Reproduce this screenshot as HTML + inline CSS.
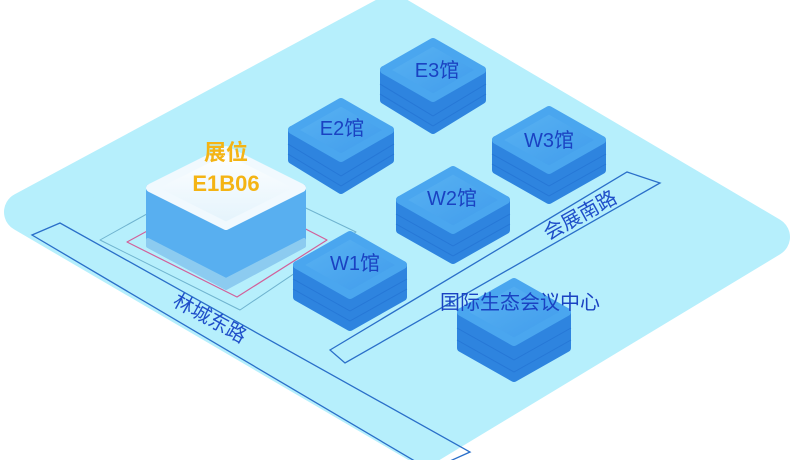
<!DOCTYPE html>
<html><head><meta charset="utf-8"><style>
html,body{margin:0;padding:0;background:#fff;width:800px;height:460px;overflow:hidden}
svg{display:block}
text{font-family:"Liberation Sans","Noto Sans CJK SC",sans-serif}
</style></head><body>
<svg width="800" height="460" viewBox="0 0 800 460" xmlns="http://www.w3.org/2000/svg">
<defs>
<linearGradient id="top" x1="0" y1="0" x2="1" y2="1"><stop offset="0" stop-color="#5ab4f3"/><stop offset="1" stop-color="#3f9aeb"/></linearGradient>
<linearGradient id="wtop" x1="0" y1="0" x2="0" y2="1"><stop offset="0" stop-color="#ffffff"/><stop offset="1" stop-color="#e3f3fc"/></linearGradient>
</defs>
<!-- platform -->
<polygon points="392,14 770,237 424,446 24,212" fill="#b6effc" stroke="#b6effc" stroke-width="40" stroke-linejoin="round"/>
<!-- roads -->
<polygon points="32,235 60,223 470,452 430,470" fill="none" stroke="#2a6fc9" stroke-width="1.3"/>
<polygon points="330,350 627,172 660,183 345,363" fill="none" stroke="#2a6fc9" stroke-width="1.3"/>
<text x="210" y="325" font-size="20" fill="#1f4fc9" text-anchor="middle" transform="rotate(29 210 318)">林城东路</text>
<text x="580" y="222" font-size="20" fill="#1f4fc9" text-anchor="middle" transform="rotate(-29 580 215)">会展南路</text>
<!-- selection outlines -->
<polygon points="100,240 226,170 356,232 240,310" fill="none" stroke="#6fb3cf" stroke-width="1" stroke-linejoin="round"/>
<polygon points="127,242 226,188 327,240 237,297" fill="none" stroke="#d2609a" stroke-width="1.2" stroke-linejoin="round"/>
<!-- E1B06 block -->
<g stroke-linejoin="round">
<polygon points="150,188 226,228 302,188 302,244 226,284 150,244" fill="#58aff0" stroke="#58aff0" stroke-width="8"/>
<polygon points="148,240 226,280 304,240 304,246 226,288 148,246" fill="#8ccbf0" stroke="#8ccbf0" stroke-width="4"/>
<polygon points="150,188 226,150 302,188 226,226" fill="url(#wtop)" stroke="#f1f9fe" stroke-width="8"/>
</g>
<text x="226" y="160" font-size="22" font-weight="bold" fill="#f4b414" text-anchor="middle">展位</text>
<text x="226" y="191" font-size="22" font-weight="bold" fill="#f4b414" text-anchor="middle">E1B06</text>
<g stroke-linejoin="round" stroke-width="8">
<g transform="translate(433,70)">
<polygon points="-49,0 0,30 49,0 49,30 0,60 -49,30" fill="#2e84df" stroke="#2e84df"/>
<polyline points="-53,14 0,46 53,14" fill="none" stroke="#2677d6" stroke-width="1"/>
<polyline points="-53,24 0,56 53,24" fill="none" stroke="#2677d6" stroke-width="1"/>
<polygon points="-49,0 0,-28 49,0 0,28" fill="url(#top)" stroke="#4aa6ef"/>
</g>
<g transform="translate(341,130)">
<polygon points="-49,0 0,30 49,0 49,30 0,60 -49,30" fill="#2e84df" stroke="#2e84df"/>
<polyline points="-53,14 0,46 53,14" fill="none" stroke="#2677d6" stroke-width="1"/>
<polyline points="-53,24 0,56 53,24" fill="none" stroke="#2677d6" stroke-width="1"/>
<polygon points="-49,0 0,-28 49,0 0,28" fill="url(#top)" stroke="#4aa6ef"/>
</g>
<g transform="translate(549,140)">
<polygon points="-53,0 0,30 53,0 53,30 0,60 -53,30" fill="#2e84df" stroke="#2e84df"/>
<polyline points="-57,14 0,46 57,14" fill="none" stroke="#2677d6" stroke-width="1"/>
<polyline points="-57,24 0,56 57,24" fill="none" stroke="#2677d6" stroke-width="1"/>
<polygon points="-53,0 0,-30 53,0 0,30" fill="url(#top)" stroke="#4aa6ef"/>
</g>
<g transform="translate(453,200)">
<polygon points="-53,0 0,30 53,0 53,30 0,60 -53,30" fill="#2e84df" stroke="#2e84df"/>
<polyline points="-57,14 0,46 57,14" fill="none" stroke="#2677d6" stroke-width="1"/>
<polyline points="-57,24 0,56 57,24" fill="none" stroke="#2677d6" stroke-width="1"/>
<polygon points="-53,0 0,-30 53,0 0,30" fill="url(#top)" stroke="#4aa6ef"/>
</g>
<g transform="translate(350,265)">
<polygon points="-53,0 0,30 53,0 53,32 0,62 -53,32" fill="#2e84df" stroke="#2e84df"/>
<polyline points="-57,14 0,46 57,14" fill="none" stroke="#2677d6" stroke-width="1"/>
<polyline points="-57,24 0,56 57,24" fill="none" stroke="#2677d6" stroke-width="1"/>
<polygon points="-53,0 0,-30 53,0 0,30" fill="url(#top)" stroke="#4aa6ef"/>
</g>
<g transform="translate(514,312)">
<polygon points="-53,0 0,30 53,0 53,36 0,66 -53,36" fill="#2e84df" stroke="#2e84df"/>
<polyline points="-57,16 0,48 57,16" fill="none" stroke="#2677d6" stroke-width="1"/>
<polyline points="-57,28 0,60 57,28" fill="none" stroke="#2677d6" stroke-width="1"/>
<polygon points="-53,0 0,-30 53,0 0,30" fill="url(#top)" stroke="#4aa6ef"/>
</g>
</g>
<g font-size="20" fill="#1a42c2" text-anchor="middle">
<text x="437" y="77">E3馆</text>
<text x="342" y="135">E2馆</text>
<text x="549" y="147">W3馆</text>
<text x="452" y="205">W2馆</text>
<text x="355" y="270">W1馆</text>
<text x="520" y="309">国际生态会议中心</text>
</g>
<text x="262" y="410" font-size="18" fill="#ffffff">n/</text>
</svg>
</body></html>
